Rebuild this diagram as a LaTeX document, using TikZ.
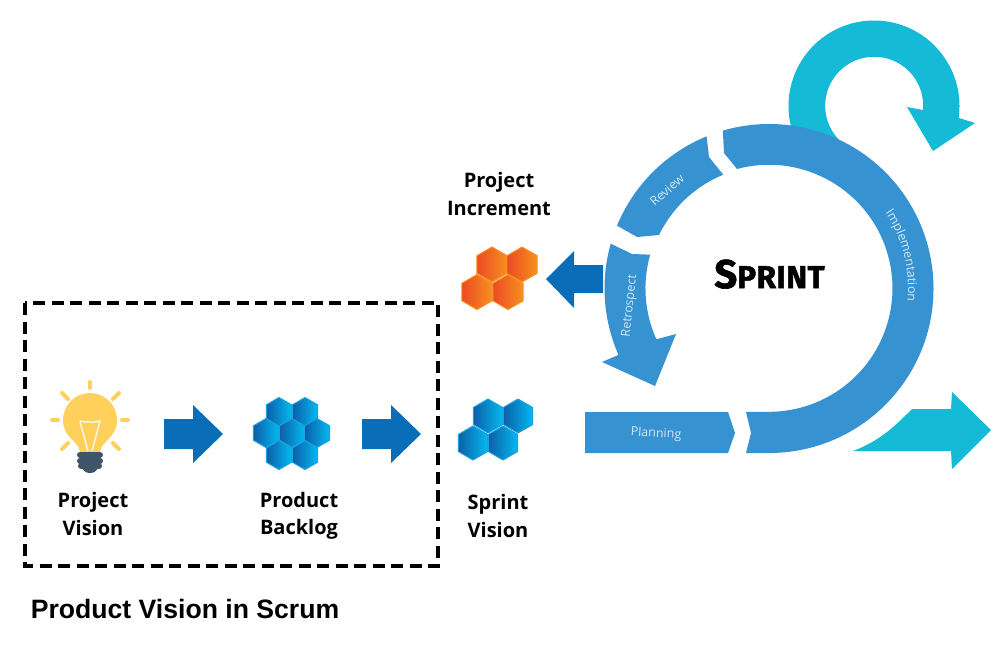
\documentclass[tikz,border=0pt]{standalone}
\usepackage{fontspec}
\setmainfont{Open Sans}
\newfontfamily\headfont{Liberation Sans}
\newfontfamily\sprintfont[BoldFeatures={FakeBold=1.6},LetterSpace=1.5]{Fira Sans}
\usetikzlibrary{decorations.text}
\definecolor{ringblue}{HTML}{3792D2}
\definecolor{loopcyan}{HTML}{14BAD6}
\definecolor{flowblue}{HTML}{0A6DB8}
\definecolor{bulbyellow}{HTML}{FFD05C}
\definecolor{bulbbase}{HTML}{3E5569}
\definecolor{ringtext}{HTML}{D3E8F6}
\definecolor{hexdark}{HTML}{0B5FA9}
\definecolor{hexlight}{HTML}{04B9F0}
\definecolor{hexedge}{HTML}{1AA3E0}
\definecolor{hexred}{HTML}{EC4A24}
\definecolor{hexamber}{HTML}{F7901E}
\tikzset{
  ringpart/.style={fill=ringblue,draw=none},
  looppart/.style={fill=loopcyan,draw=none},
  flowarrow/.style={fill=flowblue,draw=none},
  ray/.style={draw=bulbyellow,line width=4pt,line cap=round},
  thread/.style={draw=bulbbase,line width=6pt,line cap=round},
  filament/.style={draw=white!92!bulbyellow,line width=1.3pt,line join=round},
  caption/.style={font=\bfseries\fontsize{20}{22}\selectfont,text=black,inner sep=0pt},
  ringlabel/.style={font=\fontsize{12.5}{14}\selectfont,text=ringtext,inner sep=0pt},
  bluehex/.style={left color=hexdark,right color=hexlight,draw=hexedge,line width=1pt,line join=round},
  orangehex/.style={left color=hexred,right color=hexamber,draw=hexamber,line width=1pt,line join=round},
}
% hexagon with a vertex on top: style, centre x, centre y, circumradius
\newcommand{\hexcell}[4]{%
  \path[#1] (#2,#3-#4) -- (#2+0.866*#4,#3-0.5*#4) -- (#2+0.866*#4,#3+0.5*#4)
    -- (#2,#3+#4) -- (#2-0.866*#4,#3+0.5*#4) -- (#2-0.866*#4,#3-0.5*#4) -- cycle;}
\begin{document}
\begin{tikzpicture}[x=1pt,y=1pt,yscale=-1]
\useasboundingbox (0,0) rectangle (1000,657);
\fill[white] (0,0) rectangle (1000,657);

% dashed frame
\draw[black,line width=3.4pt,dash pattern=on 12pt off 6.5pt] (25,303) rectangle (438,566);

% looping arrow, tucked under the ring
\path[looppart] (874,106) ++(-215:85.5pt)
  arc[start angle=-215,end angle=8,radius=85.5pt]
  -- (975,123) -- (933,151) -- (907,107)
  -- (923,110)
  arc[start angle=5,end angle=-235,radius=49pt] -- cycle;

% exit arrow
\path[looppart] (853,451) .. controls (880,441) and (896,425) .. (912,409)
  -- (951,409) -- (952,392) -- (991,430) -- (952,469) -- (951,451) -- cycle;

% sprint ring
\path[ringpart] (746,453) -- (769,453)
  arc[start angle=90,end angle=-106.3,radius=164.5pt]
  -- (724,153) -- (737,169)
  arc[start angle=-105,end angle=90,radius=123.5pt]
  -- (746,412) -- (751,433) -- cycle;
\path[ringpart] (769,288.5) ++(-112.3:164.5pt)
  arc[start angle=-112.3,end angle=-157.5,radius=164.5pt]
  -- (637,237) -- (659,235)
  arc[start angle=-154.1,end angle=-112.3,radius=123.5pt]
  -- (709,157) -- cycle;
\path[ringpart] (769,288.5) ++(-164.2:164.5pt)
  arc[start angle=-164.2,end angle=-203.8,radius=164.5pt]
  -- (602,362) -- (655,386) -- (676,334)
  -- (656.4,339.3)
  arc[start angle=-204.3,end angle=-164.1,radius=123.5pt]
  -- (632,254) -- cycle;
\path[ringpart] (585,412) -- (728,412) -- (735,433) -- (728,453) -- (585,453) -- cycle;

% flow arrows
\path[flowarrow] (164,419) -- (193,419) -- (193,405) -- (223,434) -- (193,463) -- (193,449) -- (164,449) -- cycle;
\path[flowarrow] (362,419) -- (391,419) -- (391,405) -- (421,434) -- (391,463) -- (391,449) -- (362,449) -- cycle;
\path[flowarrow] (603,265) -- (574,265) -- (574,251) -- (546,279) -- (574,308) -- (574,293) -- (603,293) -- cycle;

% light bulb
\foreach \xa/\ya/\xb/\yb in {90/382/90/388, 119/393/113/399, 128/420/122/420, 119/449/113/443,
                             52/420/58/420, 62/393/68/399, 62/449/68/443}
  \draw[ray] (\xa,\ya) -- (\xb,\yb);
\path[fill=bulbyellow] (63,420) .. controls (63,405) and (75,393) .. (90,393)
  .. controls (105,393) and (117,405) .. (117,420)
  .. controls (117,438) and (101,441) .. (100,452) -- (80,452)
  .. controls (79,441) and (63,438) .. (63,420) -- cycle;
\draw[filament] (88,451) -- (80,422) .. controls (83,419) and (84,424) .. (87,422)
  .. controls (89,420) and (91,424) .. (94,422) .. controls (96,420) and (98,423) .. (100,421)
  -- (92,451);
\draw[thread] (80,455) -- (100,455);
\draw[thread] (80,461) -- (100,461);
\draw[thread] (81,466) -- (99,466);
\path[fill=bulbbase] (82,467) -- (98,467) .. controls (97,471) and (94,473) .. (90,473)
  .. controls (86,473) and (83,471) .. (82,467) -- cycle;

% product backlog cells
\hexcell{bluehex}{279}{412}{14.5}
\hexcell{bluehex}{305}{412}{14.5}
\hexcell{bluehex}{266}{433}{14.5}
\hexcell{bluehex}{292}{433}{14.5}
\hexcell{bluehex}{317}{433}{14.5}
\hexcell{bluehex}{279}{455}{14.5}
\hexcell{bluehex}{305}{455}{14.5}

% sprint vision cells
\hexcell{bluehex}{488}{416}{17}
\hexcell{bluehex}{518}{416}{17}
\hexcell{bluehex}{473}{443}{17}
\hexcell{bluehex}{503}{443}{17}

% project increment cells
\hexcell{orangehex}{492}{264.5}{17.5}
\hexcell{orangehex}{522}{264.5}{17.5}
\hexcell{orangehex}{477}{292}{17.5}
\hexcell{orangehex}{508}{292}{17.5}

% captions
\node[caption,align=center] (vision) at (93,514) {Project\\[5.5pt]Vision};
\node[caption,align=center] (backlog) at (299,516) {Product\\[5.5pt]Backlog};
\node[caption,align=center] (sprintvision) at (498,516) {Sprint\\[5.5pt]Vision};
\node[caption,align=center] (increment) at (499,194) {Project\\[5.5pt]Increment};
\node[inner sep=0pt,text=black,font=\headfont\bfseries\fontsize{26.6}{28}\selectfont] (title) at (185,609) {Product Vision in Scrum};
\node[inner sep=0pt,text=black,anchor=base] (sprint) at (769.5,288)
  {\sprintfont\bfseries\fontsize{40}{40}\selectfont S\fontsize{31.5}{40}\selectfont PRINT};

% ring labels
\node[ringlabel,rotate=41] (review) at (667,190) {Review};
\node[ringlabel,rotate=84] (retro) at (630,306) {Retrospect};
\node[ringlabel,rotate=-3] (plan) at (656,434) {Planning};
\begin{scope}[yscale=-1]
  \path[postaction={decorate,decoration={text along path,
      text={|\fontsize{12.5}{14}\selectfont\color{ringtext}|Implementation},
      text align=center}}]
    (769,-288.5) ++(36:139pt) arc[start angle=36,end angle=-8,radius=139pt];
\end{scope}
\end{tikzpicture}
\end{document}
